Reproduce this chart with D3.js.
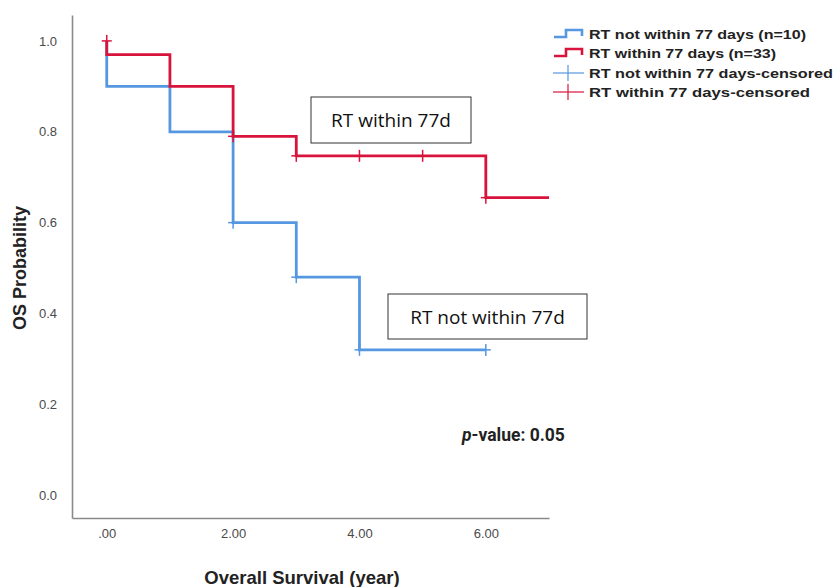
<!DOCTYPE html>
<html><head><meta charset="utf-8">
<script src="https://cdn.jsdelivr.net/npm/d3@7"></script>
<style>body{margin:0;background:#fff}svg{display:block}</style>
</head><body>
<svg id="c" width="834" height="587"></svg>
<script>
// ---- data ----
const yTicks = [0.0, 0.2, 0.4, 0.6, 0.8, 1.0];
const xTicks = [0, 2, 4, 6];
const xTickLabels = [".00", "2.00", "4.00", "6.00"];
const blueTimes = [0, 0, 1, 2, 3, 4, 6];
const blueSurv  = [1.0, 0.9, 0.8, 0.6, 0.48, 0.32, 0.32];
const redTimes  = [0, 0, 1, 2, 3, 6, 7];
const redSurv   = [1.0, 0.97, 0.90, 0.79, 0.747, 0.655, 0.655];
const blueCensTimes = [2, 3, 4, 6];
const blueCensSurv  = [0.6, 0.48, 0.32, 0.32];
const redCensTimes  = [0, 2, 3, 4, 5, 6];
const redCensSurv   = [1.0, 0.79, 0.747, 0.747, 0.747, 0.655];
const legendLabels = ["RT not within 77 days (n=10)", "RT  within 77 days (n=33)",
                      "RT not within 77 days-censored", "RT  within 77 days-censored"];
const BLUE = "#5597e0", RED = "#d8143c";

const svg = d3.select("#c");
const x = d3.scaleLinear().domain([-0.55, 7]).range([72, 549]);
const y = d3.scaleLinear().domain([-0.05, 1.057]).range([518, 15]);

// axes
const yAxis = d3.axisLeft(y).tickValues(yTicks).tickFormat(d3.format(".1f")).tickSize(0).tickPadding(15);
const gy = svg.append("g").attr("transform", "translate(72,0)").call(yAxis);
const xAxis = d3.axisBottom(x).tickValues(xTicks).tickFormat((d, i) => xTickLabels[i]).tickSize(0).tickPadding(11);
const gx = svg.append("g").attr("transform", "translate(0,518)").call(xAxis);
[gx, gy].forEach(g => {
  g.select(".domain").attr("stroke", "#8a8a8a").attr("stroke-width", 1.6);
  g.selectAll("text").attr("fill", "#4a4a4a").style("font-family", "Liberation Sans, Arial, sans-serif").style("font-size", "13px");
});

// axis titles
svg.append("text").attr("x", 302).attr("y", 584).attr("text-anchor", "middle")
  .style("font-family", "Liberation Sans, Arial, sans-serif").style("font-weight", "bold").style("font-size", "18.5px")
  .attr("fill", "#222").text("Overall Survival (year)");
svg.append("text").attr("transform", "translate(26,268) rotate(-90)").attr("text-anchor", "middle")
  .style("font-family", "Liberation Sans, Arial, sans-serif").style("font-weight", "bold").style("font-size", "18px")
  .attr("fill", "#222").text("OS Probability");

// curves
const line = d3.line().x(d => x(d[0])).y(d => y(d[1])).curve(d3.curveStepAfter);
function curve(times, surv, color) {
  svg.append("path").datum(times.map((t, i) => [t, surv[i]]))
    .attr("d", line).attr("fill", "none").attr("stroke", color).attr("stroke-width", 2.8);
}
function cens(times, surv, color) {
  const g = svg.append("g").attr("stroke", color).attr("stroke-width", 1.5);
  times.forEach((t, i) => {
    const cx = x(t), cy = y(surv[i]);
    g.append("line").attr("x1", cx).attr("x2", cx).attr("y1", cy - 6).attr("y2", cy + 6);
    g.append("line").attr("x1", cx - 5).attr("x2", cx + 5).attr("y1", cy).attr("y2", cy);
  });
}
curve(blueTimes, blueSurv, BLUE);
curve(redTimes, redSurv, RED);
cens(blueCensTimes, blueCensSurv, BLUE);
cens(redCensTimes, redCensSurv, RED);

// annotation boxes
function box(x0, y0, w, h, txt) {
  svg.append("rect").attr("x", x0).attr("y", y0).attr("width", w).attr("height", h)
    .attr("fill", "#fff").attr("stroke", "#333").attr("stroke-width", 1);
  svg.append("text").attr("x", x0 + w / 2).attr("y", y0 + h / 2 + 7).attr("text-anchor", "middle")
    .style("font-family", "Open Sans, sans-serif").style("font-size", "19px").attr("fill", "#111").text(txt);
}
box(311, 97, 160, 46, "RT within 77d");
box(388, 294, 199, 45, "RT not within 77d");

// p-value
const pt = svg.append("text").attr("x", 462).attr("y", 441)
  .style("font-family", "Roboto, sans-serif").style("font-weight", "bold").style("font-size", "17.5px").attr("fill", "#222");
pt.append("tspan").style("font-style", "italic").text("p");
pt.append("tspan").text("-value: 0.05");

// legend
const legY = [34, 53, 73, 92];
const legColors = [BLUE, RED, BLUE, RED];
legendLabels.forEach((lab, i) => {
  const yy = legY[i], c = legColors[i];
  if (i < 2) {
    svg.append("path").attr("d", `M554,${yy + 3}H566V${yy - 4}H582V${yy + 2}`)
      .attr("fill", "none").attr("stroke", c).attr("stroke-width", 2.6);
  } else {
    svg.append("line").attr("x1", 553).attr("x2", 584).attr("y1", yy).attr("y2", yy).attr("stroke", c).attr("stroke-width", 1.2);
    svg.append("line").attr("x1", 568).attr("x2", 568).attr("y1", yy - 8).attr("y2", yy + 8).attr("stroke", c).attr("stroke-width", 1.2);
  }
  const widths = [217, 187, 244, 221];
  svg.append("text").attr("x", 589).attr("y", yy + 5)
    .style("font-family", "Liberation Sans, Arial, sans-serif").style("font-weight", "bold").style("font-size", "13.5px")
    .attr("fill", "#222").attr("textLength", widths[i]).attr("lengthAdjust", "spacingAndGlyphs").text(lab);
});
</script>
</body></html>
